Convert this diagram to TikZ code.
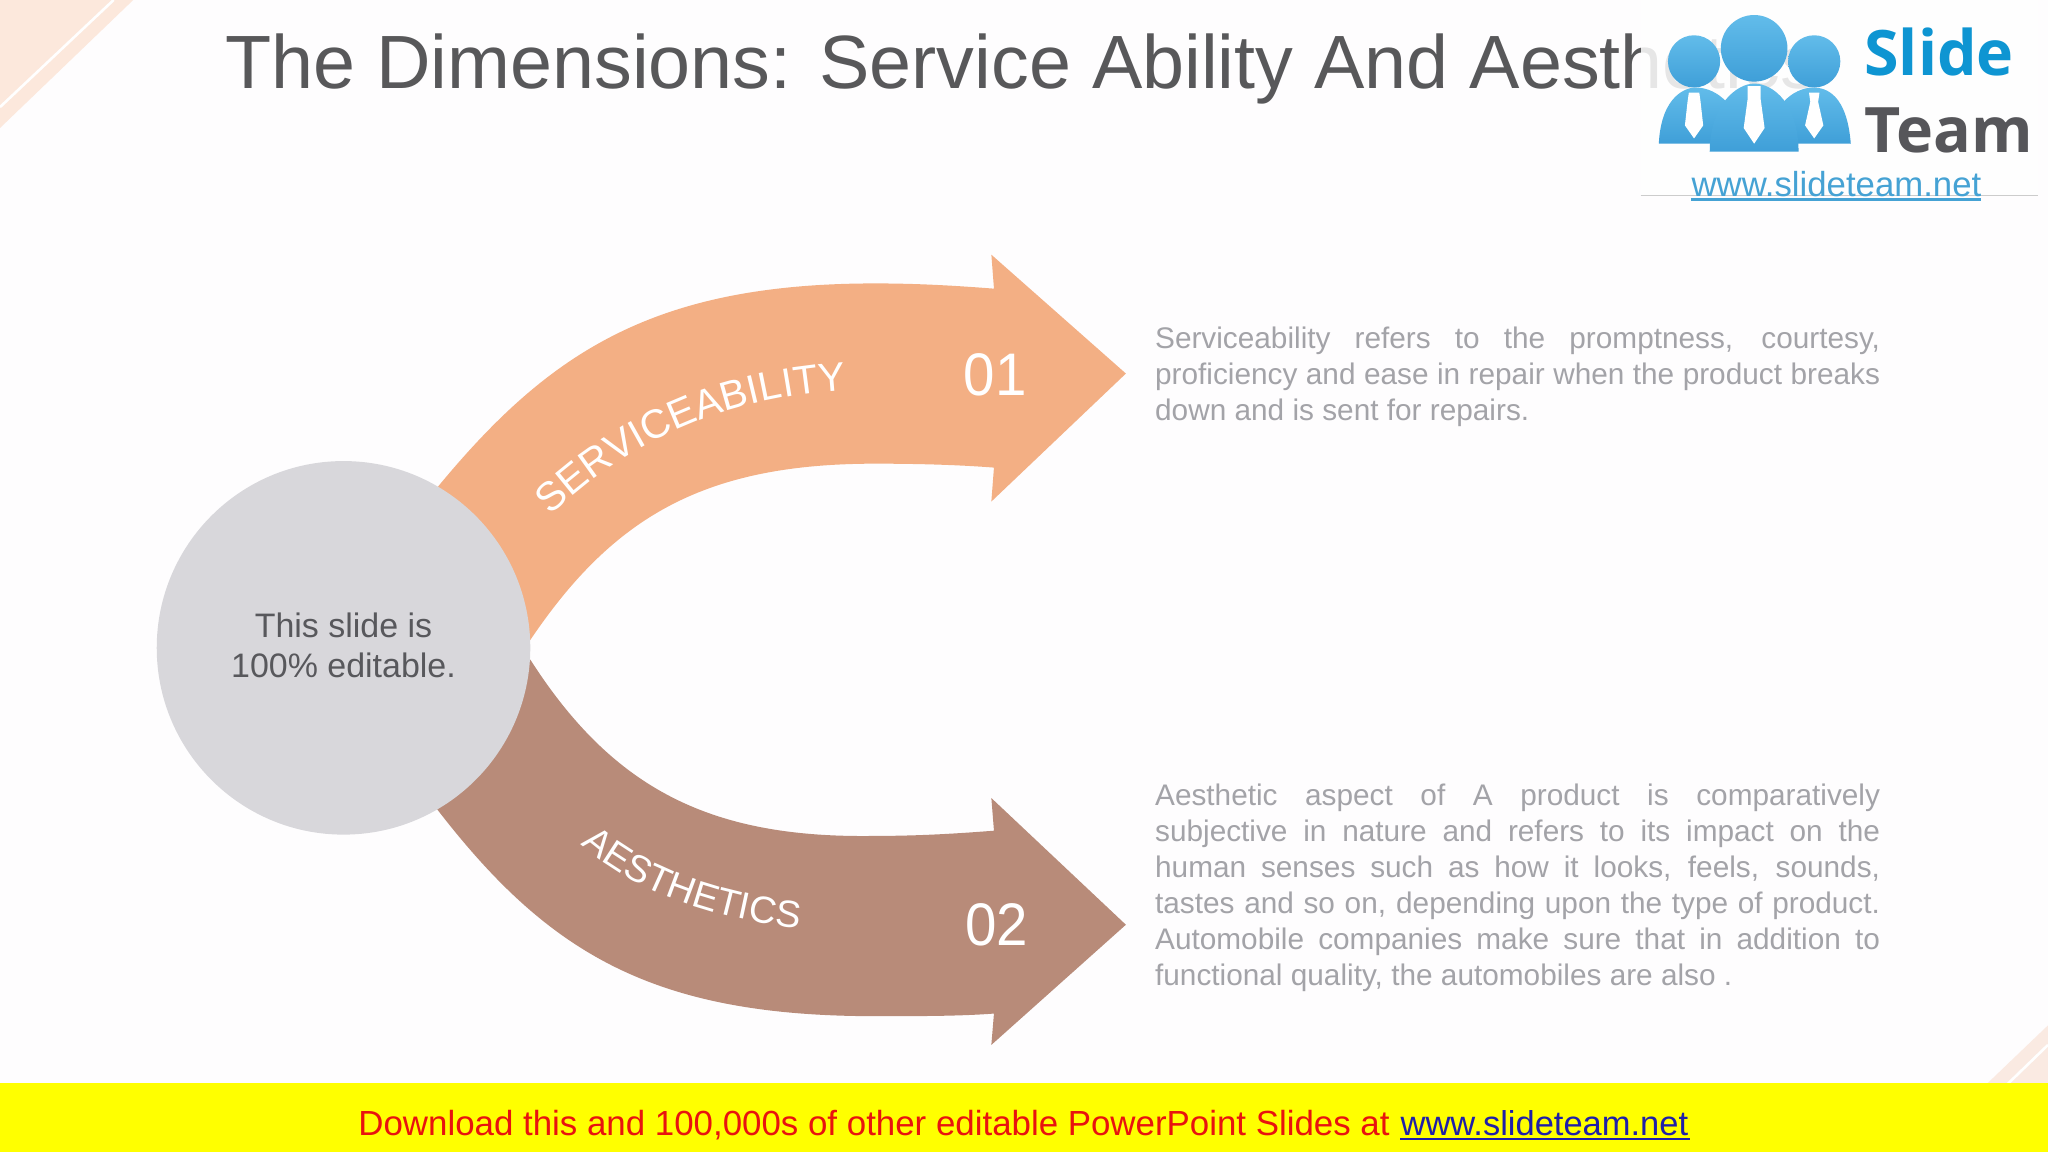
\documentclass[tikz,border=0pt]{standalone}
\usepackage{fontspec}
\usetikzlibrary{decorations.text}
\setmainfont{Liberation Sans}
\newfontfamily\logofont{Open Sans}
\definecolor{bgc}{HTML}{FEFDFE}
\definecolor{peach}{HTML}{FCE8DC}
\definecolor{peachb}{HTML}{FAEAE2}
\definecolor{arrowa}{HTML}{F3AF84}
\definecolor{arrowb}{HTML}{B88B79}
\definecolor{disc}{HTML}{D8D7DB}
\definecolor{titlec}{HTML}{58585A}
\definecolor{bodyc}{HTML}{A3A3A8}
\definecolor{darkc}{HTML}{58585C}
\definecolor{logot}{HTML}{62BCEA}
\definecolor{logob}{HTML}{3F9FD8}
\definecolor{slidec}{HTML}{0E95D2}
\definecolor{teamc}{HTML}{56565A}
\definecolor{linkc}{HTML}{45A2D4}
\definecolor{footyel}{HTML}{FFFF00}
\definecolor{footred}{HTML}{E8130F}
\definecolor{footblue}{HTML}{1F1FA8}
\tikzset{
  px/.style={x=0.5pt,y=-0.5pt},
  bodytext/.style={anchor=north west,inner sep=0pt,text width=277.5pt,align=justify,text=bodyc,font=\fontsize{11.4}{13.75}\selectfont},
  onarrow/.style={text=white,inner sep=0pt},
  person/.style={top color=logot,bottom color=logob,draw=none},
  tie/.style={fill=white,draw=none}
}
\begin{document}
\begin{tikzpicture}[px]
\useasboundingbox (0,0) rectangle (1568,882);
\fill[bgc] (0,0) rectangle (1568,882);
% corner decorations
\fill[peach] (0,0) -- (102,0) -- (0,98) -- cycle;
\draw[white,line width=1pt] (87,0) -- (0,82);
\fill[peachb] (1568,785) -- (1568,830) -- (1521,830) -- cycle;
\draw[white,line width=1pt] (1537,830) -- (1568,800);
% title
\node[anchor=west,inner sep=0pt,text=titlec,font=\fontsize{28.9}{34}\selectfont] (title) at (172,53) {The Dimensions: Service Ability And Aesthetics};
% arrows
\fill[arrowa] (335,373) .. controls (420,270) and (500,217) .. (670,217)
  .. controls (705,217) and (735,219) .. (761,221) -- (759,195) -- (862,286) -- (759,384) -- (761,358)
  .. controls (735,356) and (705,355) .. (670,355)
  .. controls (540,355) and (470,395) .. (406,490) -- (300,450) -- cycle;
\fill[arrowb] (406,505) .. controls (470,605) and (545,642) .. (670,640)
  .. controls (705,640) and (735,638) .. (761,636) -- (759,611) -- (862,708) -- (759,800) -- (761,776)
  .. controls (735,778) and (705,778) .. (670,778)
  .. controls (500,778) and (420,730) .. (335,620) -- (300,560) -- cycle;
% centre circle
\node[circle,fill=disc,minimum size=143pt,inner sep=0pt,draw=none] (hub) at (263,496) {};
\node[inner sep=0pt,align=center,text=darkc,font=\fontsize{13}{15.5}\selectfont] (hubtext) at (263,494) {This slide is\\100\% editable.};
% arrow labels
\coordinate (sa) at (412,405);
\coordinate (sb) at (662,298);
\path[decorate,decoration={text along path,text align=center,text={|\fontsize{15.5}{17}\selectfont\color{white}|SERVICEABILITY}}]
  (sa) .. controls (471,344) and (550,301) .. (sb);
\coordinate (aa) at (443,645);
\coordinate (ab) at (614,711);
\path[decorate,decoration={text along path,text align=center,text={|\fontsize{14.5}{16}\selectfont\color{white}|AESTHETICS}}]
  (aa) .. controls (480,679) and (540,703) .. (ab);
\node[onarrow,font=\fontsize{23}{26}\selectfont] (n1) at (762,287) {\scalebox{.94}[1]{01}};
\node[onarrow,font=\fontsize{23}{26}\selectfont] (n2) at (763,708) {\scalebox{.94}[1]{02}};
% descriptions
\node[bodytext] (d1) at (884,250) {Serviceability refers to the promptness, courtesy,\linebreak proficiency and ease in repair when the product breaks\linebreak down and is sent for repairs.};
\node[bodytext] (d2) at (884,600) {Aesthetic aspect of A product is comparatively\linebreak subjective in nature and refers to its impact on the\linebreak human senses such as how it looks, feels, sounds,\linebreak tastes and so on, depending upon the type of product.\linebreak Automobile companies make sure that in addition to\linebreak functional quality, the automobiles are also .};
% logo
\fill[white,opacity=.85] (1256,0) rectangle (1560,150);
\draw[gray!40,line width=.4pt] (1256,150) -- (1560,150);
\shade[person] (1270,110) .. controls (1272,72) and (1292,67) .. (1298,67) .. controls (1310,67) and (1330,75) .. (1335,110) -- cycle;
\shade[person] (1352,110) .. controls (1357,75) and (1378,67) .. (1388,67) .. controls (1398,67) and (1414,72) .. (1417,110) -- cycle;
\shade[person] (1297,47) circle[radius=20];
\shade[person] (1389,47) circle[radius=20];
\shade[person] (1343,37) circle[radius=25.5];
\shade[person] (1309,116) .. controls (1309,80) and (1330,64) .. (1343,64) .. controls (1358,64) and (1377,80) .. (1377,116) -- cycle;
\fill[tie] (1293,71) -- (1301,71) -- (1302,78) -- (1304,96) -- (1297,106) -- (1290,96) -- (1292,78) -- cycle;
\fill[tie] (1385,71) -- (1393,71) -- (1392,78) -- (1396,96) -- (1389,106) -- (1382,96) -- (1386,78) -- cycle;
\fill[tie] (1338,66) -- (1348,66) -- (1348,76) -- (1351,98) -- (1343,110) -- (1335,98) -- (1338,76) -- cycle;
\node[anchor=west,inner sep=0pt,text=slidec,font=\logofont\bfseries\fontsize{24}{26}\selectfont] (lslide) at (1427,40) {Slide};
\node[anchor=west,inner sep=0pt,text=teamc,font=\logofont\bfseries\fontsize{24}{26}\selectfont] (lteam) at (1427,100) {Team};
\node[inner sep=0pt,text=linkc,font=\fontsize{13.3}{15}\selectfont] (lurl) at (1406,141) {www.slideteam.net};
\draw[linkc,line width=1.1pt] (1295,153) -- (1517,153);
% footer
\fill[footyel] (0,829) rectangle (1568,882);
\node[anchor=base west,inner sep=0pt,text=footred,font=\fontsize{13.35}{15}\selectfont] (foot) at (274,869) {Download this and 100,000s of other editable PowerPoint Slides at};
\node[anchor=base west,inner sep=0pt,text=footblue,font=\fontsize{13.2}{15}\selectfont] (furl) at (1072,869) {www.slideteam.net};
\draw[footblue,line width=.7pt] (1072,872) -- (1294,872);
\end{tikzpicture}
\end{document}
